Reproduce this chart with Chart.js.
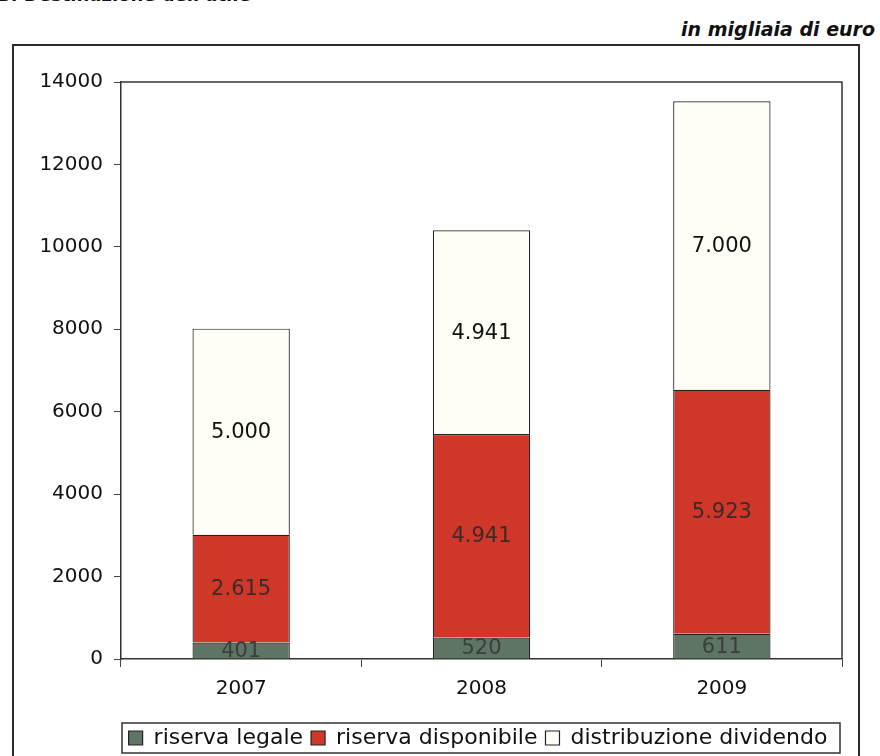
<!DOCTYPE html>
<html>
<head>
<meta charset="utf-8">
<script src="https://cdn.jsdelivr.net/npm/chart.js@4/dist/chart.umd.min.js"></script>
<style>
  html, body { margin: 0; padding: 0; background: #ffffff; }
  body { width: 880px; height: 756px; position: relative; overflow: hidden; font-family: "DejaVu Sans", Verdana, sans-serif; }
  #title { position: absolute; left: -3px; top: -16px; font-size: 18px; font-weight: bold; color: #111; white-space: nowrap; }
  #unit { position: absolute; right: 5px; top: 18px; font-size: 19px; font-weight: bold; font-style: italic; color: #111; white-space: nowrap; }
  #frame { position: absolute; left: 12px; top: 44px; width: 844px; height: 800px; border: 2px solid #2a2a2a; pointer-events: none; }
  #c { position: absolute; left: 0; top: 0; }
</style>
</head>
<body>
<div id="title">B. Destinazione dell'utile</div>
<div id="unit">in migliaia di euro</div>
<canvas id="c" width="880" height="756"></canvas>
<div id="frame"></div>
<script>
const categories = ["2007", "2008", "2009"];
const riservaLegale = [401, 520, 611];
const riservaDisponibile = [2615, 4941, 5923];
const distribuzioneDividendo = [5000, 4941, 7000];
const seriesNames = ["riserva legale", "riserva disponibile", "distribuzione dividendo"];
const yTickStep = 2000;
const yMax = 14000;

function fmtIt(v) {
  return String(Math.round(v)).replace(/\B(?=(\d{3})+(?!\d))/g, ".");
}

const labelColors = ["#3a3f3b", "#3b2a28", "#111111"];
const LEGEND_PAD = 8;
const LEGEND_FONT = 22;

const boxesPlugin = {
  id: "boxes",
  afterLayout(chart) {
    // centre the legend under the plot area, as in the original
    const a = chart.chartArea;
    chart.legend.left = a.left - 7;
    chart.legend.right = a.right;
  },
  beforeDatasetsDraw(chart) {
    const a = chart.chartArea, ctx = chart.ctx;
    ctx.save();
    ctx.strokeStyle = "#333";
    ctx.lineWidth = 1.5;
    ctx.beginPath();
    ctx.moveTo(a.left, a.top);
    ctx.lineTo(a.right, a.top);
    ctx.lineTo(a.right, a.bottom);
    ctx.stroke();
    ctx.restore();
  },
  afterDatasetsDraw(chart) {
    const ctx = chart.ctx;
    ctx.save();
    ctx.font = "21px 'DejaVu Sans'";
    ctx.textAlign = "center";
    ctx.textBaseline = "middle";
    chart.data.datasets.forEach((ds, i) => {
      const meta = chart.getDatasetMeta(i);
      meta.data.forEach((bar, j) => {
        const p = bar.getProps(["x", "y", "base"], true);
        ctx.fillStyle = labelColors[i];
        ctx.fillText(fmtIt(ds.data[j]), p.x, (p.y + p.base) / 2 + 1);
      });
    });
    ctx.restore();
  },
  afterDraw(chart) {
    const lg = chart.legend, a = chart.chartArea, ctx = chart.ctx;
    const hb = lg.legendHitBoxes[0];
    const cy = hb.top + hb.height / 2;
    ctx.save();
    ctx.strokeStyle = "#333";
    ctx.lineWidth = 1.5;
    ctx.strokeRect(a.left + 1, cy - 15, (a.right - 2) - (a.left + 1), 30);
    ctx.restore();
  }
};

new Chart(document.getElementById("c"), {
  type: "bar",
  data: {
    labels: categories,
    datasets: [
      { label: seriesNames[0], data: riservaLegale, backgroundColor: "#5e7464", borderColor: "#222", borderWidth: 1.2 },
      { label: seriesNames[1], data: riservaDisponibile, backgroundColor: "#cf3829", borderColor: "#222", borderWidth: 1.2 },
      { label: seriesNames[2], data: distribuzioneDividendo, backgroundColor: "#fefef6", borderColor: "#222", borderWidth: 1.2 }
    ]
  },
  options: {
    responsive: false,
    animation: false,
    layout: { padding: { left: 0, right: 38, top: 82, bottom: -3 } },
    datasets: { bar: { categoryPercentage: 1.0, barPercentage: 0.405 } },
    plugins: {
      tooltip: { enabled: false },
      legend: {
        position: "bottom",
        labels: {
          font: { family: "DejaVu Sans", size: LEGEND_FONT },
          color: "#111",
          boxWidth: 14,
          boxHeight: 14,
          padding: LEGEND_PAD
        }
      }
    },
    scales: {
      x: {
        stacked: true,
        afterFit(s) { s.height = 60; },
        grid: { drawOnChartArea: false, drawTicks: true, tickLength: 8, color: "#444", offset: true },
        border: { display: true, color: "#333", width: 1.5 },
        ticks: { font: { family: "DejaVu Sans", size: 20 }, color: "#111", padding: 10 }
      },
      y: {
        stacked: true,
        min: 0, max: yMax,
        afterFit(s) { s.width = 121; },
        grid: { drawOnChartArea: false, drawTicks: true, tickLength: 7, color: "#444" },
        border: { display: true, color: "#333", width: 1.5 },
        ticks: {
          stepSize: yTickStep,
          callback: (v) => String(v),
          font: { family: "DejaVu Sans", size: 20 }, color: "#111", padding: 11
        }
      }
    }
  },
  plugins: [boxesPlugin]
});
</script>
</body>
</html>
